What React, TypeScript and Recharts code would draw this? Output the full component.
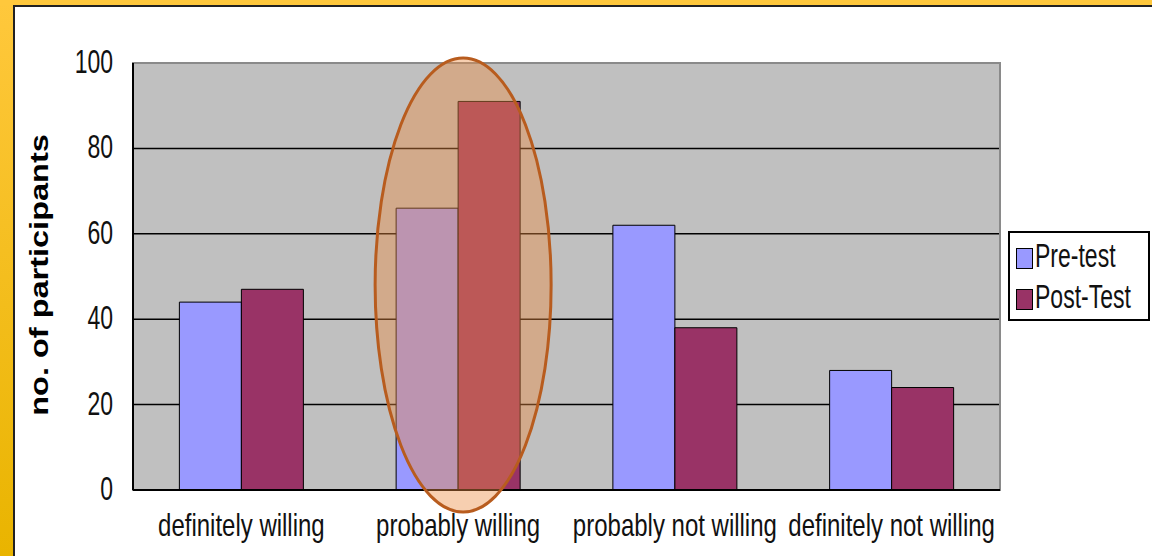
import React from 'react';
import {
  BarChart,
  Bar,
  XAxis,
  YAxis,
  CartesianGrid,
  Legend,
  ReferenceDot,
  ReferenceArea,
} from 'recharts';

// Willingness categories and participant counts before / after the intervention
const categories = ['definitely willing', 'probably willing', 'probably not willing', 'definitely not willing'];
const preTest = [44, 66, 62, 28];
const postTest = [47, 91, 38, 24];
const yTicks = [0, 20, 40, 60, 80, 100];
const seriesNames = ['Pre-test', 'Post-Test'];

// Highlighted category (ellipse centre value on the y scale)
const highlightCategory = 'probably willing';
const highlightValue = 48;

const data = categories.map((category, i) => ({
  category,
  pre: preTest[i],
  post: postTest[i],
}));

const FONT = '"Liberation Sans", Arial, sans-serif';

const CategoryTick = (props: any) => {
  const { x, payload } = props;
  return (
    <g transform={`translate(${x},536)`}>
      <text textAnchor="middle" transform="scale(1,1.34)" fontFamily={FONT} fontSize={24} fill="#111">
        {payload.value}
      </text>
    </g>
  );
};

const ValueTick = (props: any) => {
  const { y, payload } = props;
  return (
    <g transform={`translate(113,${y + 10})`}>
      <text textAnchor="end" transform="scale(1,1.45)" fontFamily={FONT} fontSize={23} fill="#111">
        {payload.value}
      </text>
    </g>
  );
};

const AxisTitle = () => (
  <g transform="translate(48,275) rotate(-90)">
    <text textAnchor="middle" transform="scale(1.3,1)" fontFamily={FONT} fontWeight="bold" fontSize={25} fill="#000">
      no. of participants
    </text>
  </g>
);

const HighlightEllipse = (props: any) => (
  <ellipse
    cx={props.cx + 5}
    cy={props.cy}
    rx={88}
    ry={227}
    fill="rgba(237,140,67,0.42)"
    stroke="#B85C1E"
    strokeWidth={3}
  />
);

const LegendBox = (props: any) => {
  const items = [...(props.payload || [])].sort(
    (a: any, b: any) => seriesNames.indexOf(a.value) - seriesNames.indexOf(b.value)
  );
  return (
    <div
      style={{
        width: 142,
        height: 90,
        border: '2px solid #000',
        background: '#fff',
        boxSizing: 'border-box',
        position: 'relative',
      }}
    >
      {items.map((item: any, i: number) => (
        <div key={item.value} style={{ position: 'absolute', left: 6, top: 13 + i * 41, height: 24, display: 'flex' }}>
          <div
            style={{
              width: 17,
              height: 21,
              background: item.color,
              border: '1.5px solid #000',
              boxSizing: 'border-box',
              marginTop: 2,
            }}
          />
          <div
            style={{
              marginLeft: 2,
              fontFamily: FONT,
              fontSize: 23,
              lineHeight: '24px',
              color: '#111',
              transform: 'scaleY(1.45)',
              transformOrigin: '0 70%',
              whiteSpace: 'nowrap',
            }}
          >
            {item.value}
          </div>
        </div>
      ))}
    </div>
  );
};

export default function App() {
  return (
    <div style={{ position: 'absolute', left: 0, top: 0, width: 1152, height: 556, background: '#fff', overflow: 'hidden' }}>
      {/* slide frame */}
      <div style={{ position: 'absolute', left: 0, top: 0, width: 13, height: 556, background: 'linear-gradient(#FFC83C, #E9B400)' }} />
      <div style={{ position: 'absolute', left: 0, top: 0, width: 1152, height: 5, background: '#FFC83C' }} />
      <div style={{ position: 'absolute', left: 13, top: 5, width: 1139, height: 2, background: '#222' }} />
      <div style={{ position: 'absolute', left: 13, top: 5, width: 2, height: 551, background: '#222' }} />
      <div style={{ position: 'absolute', left: 0, top: 0 }}>
        <BarChart
          width={1152}
          height={556}
          data={data}
          margin={{ top: 63, right: 152, bottom: 0, left: 0 }}
          barCategoryGap="21.4%"
          barGap={0}
        >
          <CartesianGrid
            vertical={false}
            horizontalValues={yTicks.filter((t) => t > 0 && t < 100)}
            stroke="#000"
            strokeWidth={1.5}
            fill="#C0C0C0"
            fillOpacity={1}
          />
          <ReferenceArea y1={0} y2={100} fill="none" stroke="#8A8A8A" strokeWidth={2} ifOverflow="visible" />
          <XAxis
            dataKey="category"
            interval={0}
            tickLine={false}
            axisLine={{ stroke: '#000', strokeWidth: 2 }}
            tick={<CategoryTick />}
            height={66}
          />
          <YAxis
            domain={[0, 100]}
            ticks={yTicks}
            tickLine={false}
            axisLine={{ stroke: '#000', strokeWidth: 2 }}
            tick={<ValueTick />}
            width={133}
            label={<AxisTitle />}
          />
          <Legend
            layout="vertical"
            align="center"
            verticalAlign="middle"
            wrapperStyle={{ position: 'absolute', left: 1008, top: 231, width: 142, height: 90 }}
            content={<LegendBox />}
          />
          <Bar dataKey="pre" name={seriesNames[0]} fill="#9999FF" stroke="#000" strokeWidth={1} isAnimationActive={false} />
          <Bar dataKey="post" name={seriesNames[1]} fill="#993366" stroke="#000" strokeWidth={1} isAnimationActive={false} />
          <ReferenceDot
            x={highlightCategory}
            y={highlightValue}
            ifOverflow="visible"
            shape={<HighlightEllipse />}
          />
        </BarChart>
      </div>
    </div>
  );
}
